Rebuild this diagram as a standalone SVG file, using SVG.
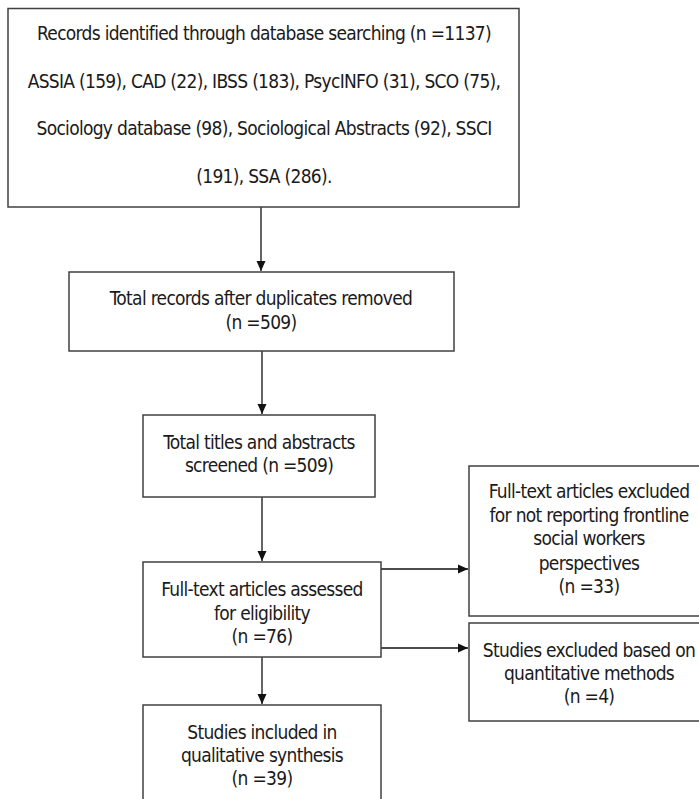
<svg xmlns="http://www.w3.org/2000/svg" width="699" height="799" viewBox="0 0 699 799">
<defs>
<style>
.box{fill:#fff;stroke:#404040;stroke-width:1.5}
.t{font-family:"DejaVu Sans Condensed","DejaVu Sans",sans-serif;font-stretch:condensed;font-size:19px;fill:#1a1a1a;text-anchor:middle;letter-spacing:-0.7px}
.c{stroke:#111;stroke-width:1.3;fill:none;marker-end:url(#ah)}
</style>
<marker id="ah" viewBox="0 0 10 10" refX="10" refY="5" markerWidth="10" markerHeight="10" markerUnits="userSpaceOnUse" orient="auto">
<path d="M0,0.5 L10,5 L0,9.5 Z" fill="#111"/>
</marker>
</defs>
<rect width="699" height="799" fill="#fff"/>
<g id="connectors">
<line class="c" x1="261" y1="207" x2="261" y2="271"/>
<line class="c" x1="262" y1="351" x2="262" y2="414"/>
<line class="c" x1="262" y1="497" x2="262" y2="561"/>
<line class="c" x1="381" y1="569" x2="468" y2="569"/>
<line class="c" x1="381" y1="648" x2="468" y2="648"/>
<line class="c" x1="262" y1="657" x2="262" y2="704"/>
</g>
<g id="records">
<rect class="box" x="8" y="8.5" width="511" height="198.5"/>
<text class="t" x="264" y="40">Records identified through database searching (n =1137)</text>
<text class="t" x="264" y="88">ASSIA (159), CAD (22), IBSS (183), PsycINFO (31), SCO (75),</text>
<text class="t" x="264" y="135">Sociology database (98), Sociological Abstracts (92), SSCI</text>
<text class="t" x="264" y="182.5">(191), SSA (286).</text>
</g>
<g id="dedup">
<rect class="box" x="69" y="272" width="385" height="79"/>
<text class="t" x="261" y="305">Total records after duplicates removed</text>
<text class="t" x="261" y="329">(n =509)</text>
</g>
<g id="screened">
<rect class="box" x="143" y="415" width="232" height="82"/>
<text class="t" x="259" y="448.5">Total titles and abstracts</text>
<text class="t" x="259" y="471.5">screened (n =509)</text>
</g>
<g id="fulltext">
<rect class="box" x="143" y="562" width="238" height="95"/>
<text class="t" x="262" y="596">Full-text articles assessed</text>
<text class="t" x="262" y="619.5">for eligibility</text>
<text class="t" x="262" y="643">(n =76)</text>
</g>
<g id="included">
<rect class="box" x="143" y="705" width="238" height="120"/>
<text class="t" x="262" y="738.5">Studies included in</text>
<text class="t" x="262" y="761.5">qualitative synthesis</text>
<text class="t" x="262" y="784.5">(n =39)</text>
</g>
<g id="excluded-perspectives">
<rect class="box" x="469" y="466" width="242" height="150"/>
<text class="t" x="589" y="497.5">Full-text articles excluded</text>
<text class="t" x="589" y="521.5">for not reporting frontline</text>
<text class="t" x="589" y="545">social workers</text>
<text class="t" x="589" y="569.5">perspectives</text>
<text class="t" x="589" y="593">(n =33)</text>
</g>
<g id="excluded-quantitative">
<rect class="box" x="469" y="623" width="242" height="98"/>
<text class="t" x="589" y="657">Studies excluded based on</text>
<text class="t" x="589" y="680">quantitative methods</text>
<text class="t" x="589" y="703">(n =4)</text>
</g>
</svg>
